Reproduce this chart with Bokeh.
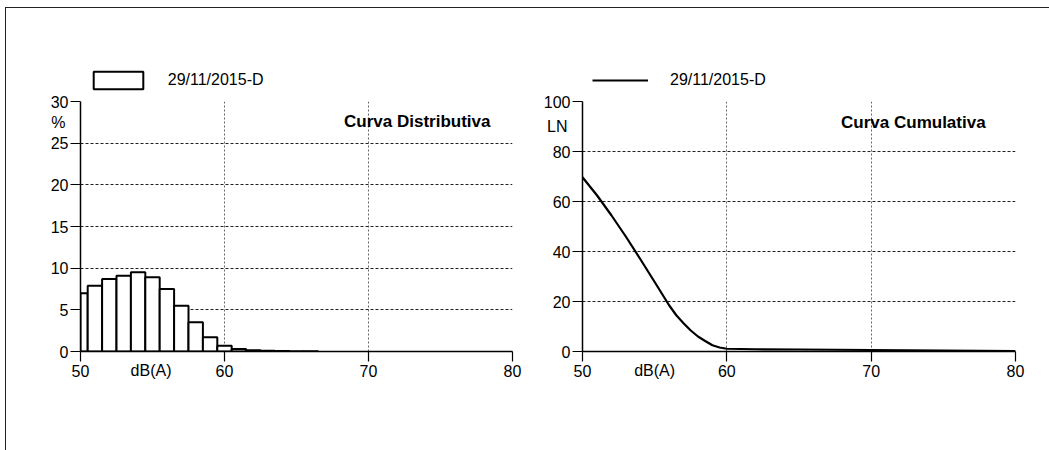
from bokeh.plotting import figure
from bokeh.layouts import row, column
from bokeh.models import Label, Legend, LegendItem, FixedTicker, LinearAxis
from bokeh.embed import file_html
from bokeh.resources import INLINE

FONT = "Liberation Sans"

# Distribution of levels (% of time per 1 dB class)
levels = [50, 51, 52, 53, 54, 55, 56, 57, 58, 59, 60, 61, 62, 63, 64, 65, 66]
dist_pct = [7.0, 7.9, 8.7, 9.1, 9.5, 8.9, 7.5, 5.5, 3.5, 1.7, 0.7, 0.3, 0.15, 0.1, 0.05, 0.03, 0.02]

# Cumulative curve LN (% of time the level is exceeded)
cum_levels = [50, 51, 52, 53, 54, 55, 56, 56.5, 57, 57.5, 58, 58.5, 59, 59.5, 60, 62, 65, 70, 75, 80]
cum_ln = [69.7, 62.5, 54.5, 46.0, 37.0, 27.8, 18.5, 14.5, 11.3, 8.4, 6.0, 4.2, 2.5, 1.6, 1.1, 0.9, 0.8, 0.6, 0.4, 0.2]

x_ticks = [50, 60, 70, 80]
dist_ticks = [0, 5, 10, 15, 20, 25, 30]
cum_ticks = [0, 20, 40, 60, 80, 100]
series_name = "29/11/2015-D"

BAR_STYLE = dict(fill_color="white", line_color="black", line_width=2)
LINE_STYLE = dict(line_color="black", line_width=2.2)


def style_axis(ax, tick_out):
    ax.axis_line_color = "black"
    ax.axis_line_width = 1.5
    ax.major_tick_line_color = "black"
    ax.major_tick_line_width = 1.2
    ax.major_tick_line_alpha = 1.0
    ax.major_tick_in = 0
    ax.major_tick_out = tick_out
    ax.minor_tick_line_color = None
    ax.minor_tick_in = 0
    ax.minor_tick_out = 0
    ax.major_label_text_font = FONT
    ax.major_label_text_font_size = "16px"
    ax.major_label_text_color = "black"


def caption_axis(at, text, standoff):
    """Unit caption written in the tick-label row of the main axis."""
    cap = LinearAxis(ticker=FixedTicker(ticks=[at]), major_label_overrides={at: text})
    style_axis(cap, 0)
    cap.axis_line_color = None
    cap.major_tick_line_color = None
    cap.major_label_standoff = standoff
    return cap


def base_figure(width, left, right, y_end, yticks, y_unit, y_unit_at, y_cap_shift,
                x_unit_at):
    p = figure(width=width, height=359, x_range=(50, 80), y_range=(0, y_end),
               min_border_left=left, min_border_right=right,
               min_border_top=10, min_border_bottom=99,
               output_backend="svg", toolbar_location=None, tools="")
    p.outline_line_color = None
    p.background_fill_color = "white"
    p.border_fill_color = "white"
    p.xaxis.ticker = FixedTicker(ticks=x_ticks)
    p.yaxis.ticker = FixedTicker(ticks=yticks)
    style_axis(p.xaxis[0], 10)
    style_axis(p.yaxis[0], 10)
    p.yaxis.major_label_standoff = 2
    p.xaxis.major_label_standoff = 3
    p.add_layout(caption_axis(y_unit_at, y_unit, y_cap_shift), "left")
    p.add_layout(caption_axis(x_unit_at, "dB(A)", -18), "below")
    p.xgrid.grid_line_color = "#666666"
    p.xgrid.grid_line_dash = "2 2"
    p.ygrid.grid_line_color = "#222222"
    p.ygrid.grid_line_dash = "3 2"
    return p


def legend_strip(width, key_renderer_fn, dx, glyph_width, standoff):
    """Header strip above a chart that carries its series key."""
    s = figure(width=width, height=83, x_range=(0, 1), y_range=(0, 1),
               x_axis_type=None, y_axis_type=None, min_border=0,
               output_backend="svg", toolbar_location=None, tools="")
    s.outline_line_color = None
    s.grid.visible = False
    key = key_renderer_fn(s)
    key.visible = False
    s.add_layout(Legend(items=[LegendItem(label=series_name, renderers=[key])],
                        location=(dx, 0), orientation="horizontal",
                        glyph_width=glyph_width, glyph_height=22, label_standoff=standoff,
                        label_text_font=FONT, label_text_font_size="16px",
                        label_text_color="black",
                        inactive_fill_alpha=0,
                        border_line_color=None, background_fill_alpha=0,
                        padding=0, margin=0, spacing=0))
    return s


def add_title(p, x, y, text):
    p.add_layout(Label(x=x, y=y, text=text, text_align="right", text_baseline="middle",
                       text_font=FONT, text_font_size="17px", text_font_style="bold",
                       text_color="black"))


# Left: distribution histogram
p1 = base_figure(520, 74, 14, 30, dist_ticks, "%", 27.5, -18, 54.9)
p1.vbar(x=levels, top=dist_pct, width=1, **BAR_STYLE)
add_title(p1, 78.47, 27.6, "Curva Distributiva")
s1 = legend_strip(520, lambda f: f.vbar(x=levels, top=dist_pct, width=1, **BAR_STYLE),
                  80.75, 62, 19)

# Right: cumulative curve
p2 = base_figure(523, 56, 34, 100, cum_ticks, "LN", 90, -27, 55)
p2.line(cum_levels, cum_ln, **LINE_STYLE)
add_title(p2, 77.93, 91.6, "Curva Cumulativa")
s2 = legend_strip(523, lambda f: f.line(cum_levels, cum_ln, **LINE_STYLE),
                  66, 56, 22)

layout = column(row(s1, s2), row(p1, p2), margin=(7, 0, 0, 5),
                styles={"border-top": "1px solid #222222", "border-left": "1px solid #222222"})

with open("out.html", "w") as f:
    f.write(file_html(layout, INLINE))
